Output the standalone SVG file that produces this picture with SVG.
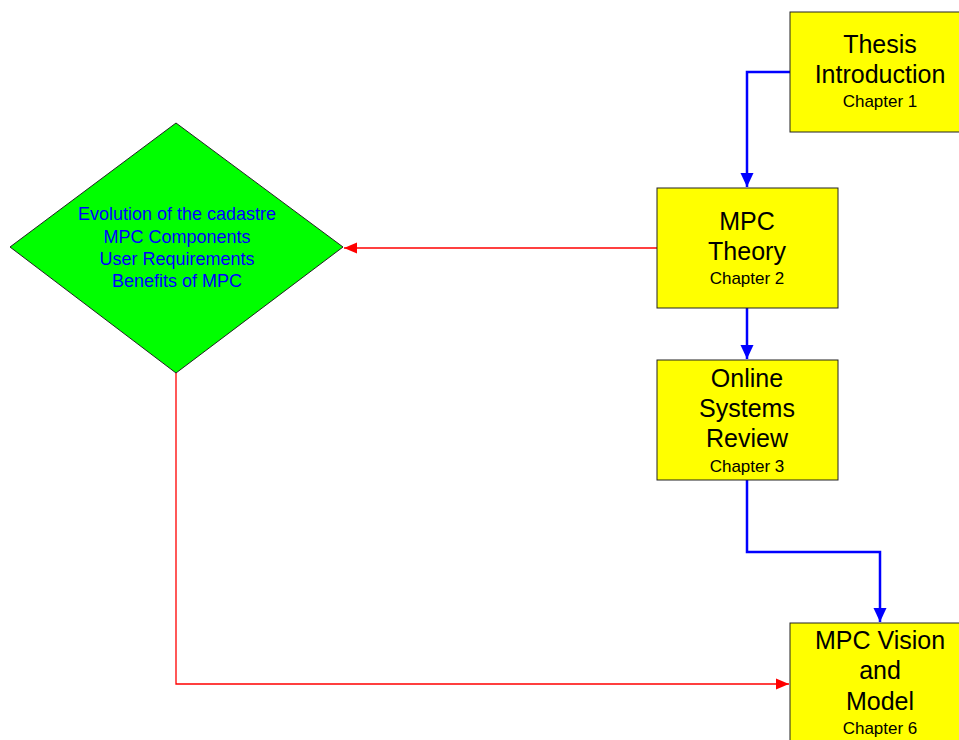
<svg xmlns="http://www.w3.org/2000/svg" width="959" height="740" viewBox="0 0 959 740">
<style>
.box{fill:#FFFF00;stroke:#222;stroke-width:1}
.big{font-family:"Liberation Sans",Arial,sans-serif;font-size:25px;fill:#000;text-anchor:middle}
.small{font-family:"Liberation Sans",Arial,sans-serif;font-size:17px;fill:#000;text-anchor:middle}
.dtext{font-family:"Liberation Sans",Arial,sans-serif;font-size:18px;fill:#0000FF;text-anchor:middle}
.blue{fill:none;stroke:#0000FF;stroke-width:2.5}
.red{fill:none;stroke:#FF0000;stroke-width:1.3}
</style>
<defs>
<marker id="ab" markerUnits="userSpaceOnUse" markerWidth="14" markerHeight="14" viewBox="0 0 14 14" refX="14" refY="7" orient="auto"><path d="M0,0.5 L14,7 L0,13.5 Z" fill="#0000FF"/></marker>
<marker id="ar" markerUnits="userSpaceOnUse" markerWidth="13" markerHeight="12" viewBox="0 0 13 12" refX="13" refY="6" orient="auto"><path d="M0,0.5 L13,6 L0,11.5 Z" fill="#FF0000"/></marker>
</defs>
<rect width="959" height="740" fill="#fff"/>
<g id="connectors">
<path class="blue" d="M790,72 H747 V187" marker-end="url(#ab)"/>
<path class="blue" d="M747,308 V359" marker-end="url(#ab)"/>
<path class="blue" d="M747,480 V552 H880 V622" marker-end="url(#ab)"/>
<path class="red" d="M657,248 H344" marker-end="url(#ar)"/>
<path class="red" d="M176,373 V684 H789" marker-end="url(#ar)"/>
</g>
<g id="n1">
<rect class="box" x="790" y="12" width="181" height="120"/>
<text class="big" x="880" y="53">Thesis</text>
<text class="big" x="880" y="83">Introduction</text>
<text class="small" x="880" y="107">Chapter 1</text>
</g>
<g id="n2">
<rect class="box" x="657" y="188" width="181" height="120"/>
<text class="big" x="747" y="230">MPC</text>
<text class="big" x="747" y="260">Theory</text>
<text class="small" x="747" y="284">Chapter 2</text>
</g>
<g id="n3">
<rect class="box" x="657" y="360" width="181" height="120"/>
<text class="big" x="747" y="387">Online</text>
<text class="big" x="747" y="417">Systems</text>
<text class="big" x="747" y="447">Review</text>
<text class="small" x="747" y="472">Chapter 3</text>
</g>
<g id="n4">
<rect class="box" x="790" y="623" width="181" height="130"/>
<text class="big" x="880" y="649">MPC Vision</text>
<text class="big" x="880" y="679">and</text>
<text class="big" x="880" y="710">Model</text>
<text class="small" x="880" y="734">Chapter 6</text>
</g>
<g id="diamond">
<polygon points="176,123 343,247 176,373 10,247" fill="#00FF00" stroke="#222" stroke-width="1"/>
<text class="dtext" x="177" y="220">Evolution of the cadastre</text>
<text class="dtext" x="177" y="243">MPC Components</text>
<text class="dtext" x="177" y="265">User Requirements</text>
<text class="dtext" x="177" y="287">Benefits of MPC</text>
</g>
</svg>
